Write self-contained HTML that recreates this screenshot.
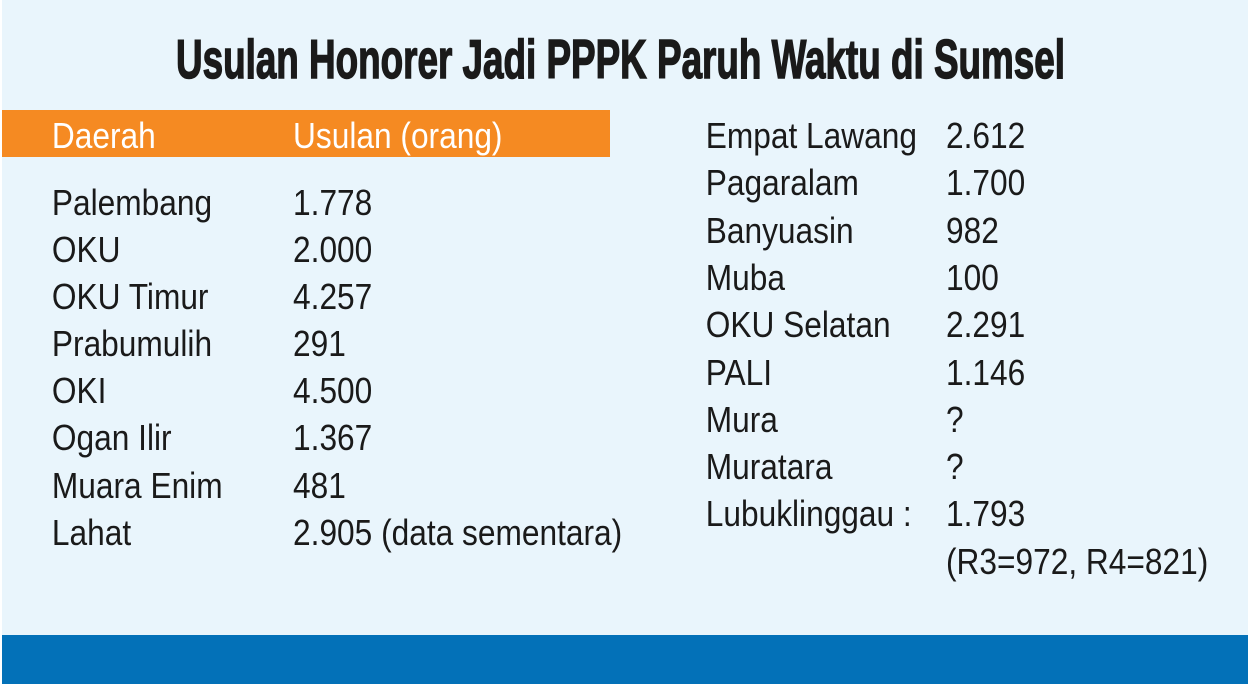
<!DOCTYPE html>
<html><head><meta charset="utf-8"><style>
html,body{margin:0;padding:0;background:#fff}
svg{display:block}
</style></head><body>
<svg width="1250" height="684" viewBox="0 0 1250 684" xmlns="http://www.w3.org/2000/svg">
<rect x="0" y="0" width="1250" height="684" fill="#fff"/>
<rect x="2" y="0" width="1246" height="684" fill="#e9f5fc"/>
<rect x="2" y="635" width="1246" height="49" fill="#0371b8"/>
<rect x="2" y="110" width="608" height="47" fill="#f58a22"/>
<text x="176" y="78" font-family="Liberation Sans Narrow, Liberation Sans, sans-serif" font-weight="bold" font-size="55" fill="#1a1a1a" stroke="#1a1a1a" stroke-width="1.5" textLength="889" lengthAdjust="spacingAndGlyphs">Usulan Honorer Jadi PPPK Paruh Waktu di Sumsel</text>
<g transform="translate(0,-2) scale(0.88,1)" font-family="Liberation Sans, sans-serif" font-size="36" fill="#1a1a1a">
<g fill="#fff">
<text x="59" y="150">Daerah</text>
<text x="333" y="150">Usulan (orang)</text>
</g>
<text x="59" y="217">Palembang</text><text x="333" y="217">1.778</text>
<text x="59" y="264">OKU</text><text x="333" y="264">2.000</text>
<text x="59" y="311">OKU Timur</text><text x="333" y="311">4.257</text>
<text x="59" y="358">Prabumulih</text><text x="333" y="358">291</text>
<text x="59" y="405">OKI</text><text x="333" y="405">4.500</text>
<text x="59" y="452">Ogan Ilir</text><text x="333" y="452">1.367</text>
<text x="59" y="500">Muara Enim</text><text x="333" y="500">481</text>
<text x="59" y="547">Lahat</text><text x="333" y="547">2.905 (data sementara)</text>

<text x="802" y="150">Empat Lawang</text><text x="1075" y="150">2.612</text>
<text x="802" y="197">Pagaralam</text><text x="1075" y="197">1.700</text>
<text x="802" y="245">Banyuasin</text><text x="1075" y="245">982</text>
<text x="802" y="292">Muba</text><text x="1075" y="292">100</text>
<text x="802" y="339">OKU Selatan</text><text x="1075" y="339">2.291</text>
<text x="802" y="387">PALI</text><text x="1075" y="387">1.146</text>
<text x="802" y="434">Mura</text><text x="1075" y="434">?</text>
<text x="802" y="481">Muratara</text><text x="1075" y="481">?</text>
<text x="802" y="528">Lubuklinggau :</text><text x="1075" y="528">1.793</text>
<text x="1075" y="576">(R3=972, R4=821)</text>
</g>
</svg>
</body></html>
